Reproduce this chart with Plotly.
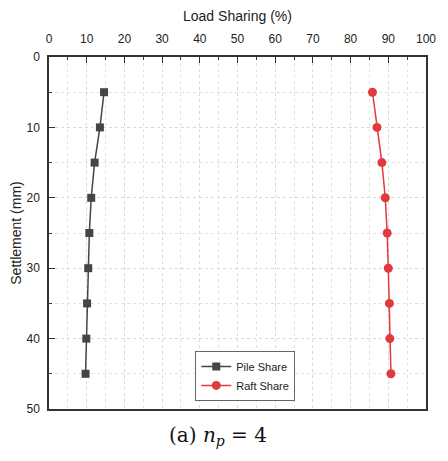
import plotly.graph_objects as go

settlement = [5, 10, 15, 20, 25, 30, 35, 40, 45]
pile_share = [14.6, 13.5, 12.1, 11.2, 10.7, 10.4, 10.1, 9.9, 9.7]
raft_share = [85.8, 87.0, 88.3, 89.2, 89.7, 90.0, 90.3, 90.4, 90.7]

fig = go.Figure()
fig.add_trace(go.Scatter(x=pile_share, y=settlement, mode="lines+markers", name="Pile Share",
                         line=dict(color="#454545", width=1.5),
                         marker=dict(symbol="square", size=8, color="#454545")))
fig.add_trace(go.Scatter(x=raft_share, y=settlement, mode="lines+markers", name="Raft Share",
                         line=dict(color="#e0393e", width=1.5),
                         marker=dict(symbol="circle", size=9, color="#e0393e")))

axis_common = dict(showline=True, linecolor="#333", linewidth=1.5, mirror=True,
                   ticks="inside", ticklen=6, tickcolor="#333", tickwidth=1.2,
                   showgrid=True, gridcolor="#d8d8d8", griddash="dot", gridwidth=1,
                   zeroline=False,
                   tickfont=dict(family="Liberation Sans, Arial", size=12, color="#222"),
                   minor=dict(dtick=5, ticks="inside", ticklen=3, tickcolor="#333",
                              showgrid=True, gridcolor="#e2e2e2", griddash="dot"))

fig.update_layout(
    width=448, height=461,
    margin=dict(l=49, r=12, t=57, b=52),
    paper_bgcolor="white", plot_bgcolor="white",
    xaxis=dict(range=[0, 100], dtick=10, side="top", ticklabelstandoff=7,
               title=dict(text="Load Sharing (%)", font=dict(family="Liberation Sans, Arial", size=14, color="#222"), standoff=8),
               **axis_common),
    yaxis=dict(range=[50, 0], dtick=10, ticklabelstandoff=5,
               title=dict(text="Settlement (mm)", font=dict(family="Liberation Sans, Arial", size=14, color="#222"), standoff=2),
               **axis_common),
    legend=dict(x=0.388, y=0.023, xanchor="left", yanchor="bottom",
                bordercolor="#666", borderwidth=1, bgcolor="white",
                font=dict(family="Liberation Sans, Arial", size=11, color="#222"),
                tracegroupgap=0, itemwidth=30),
    showlegend=True,
    annotations=[dict(text="(a) <i>n</i><sub><i>p</i></sub> = 4", xref="paper", yref="paper",
                      x=0.447, y=-0.035, xanchor="center", yanchor="top", showarrow=False,
                      font=dict(family="DejaVu Serif", size=20, color="#111"))],
)

fig.write_html("out.html")
